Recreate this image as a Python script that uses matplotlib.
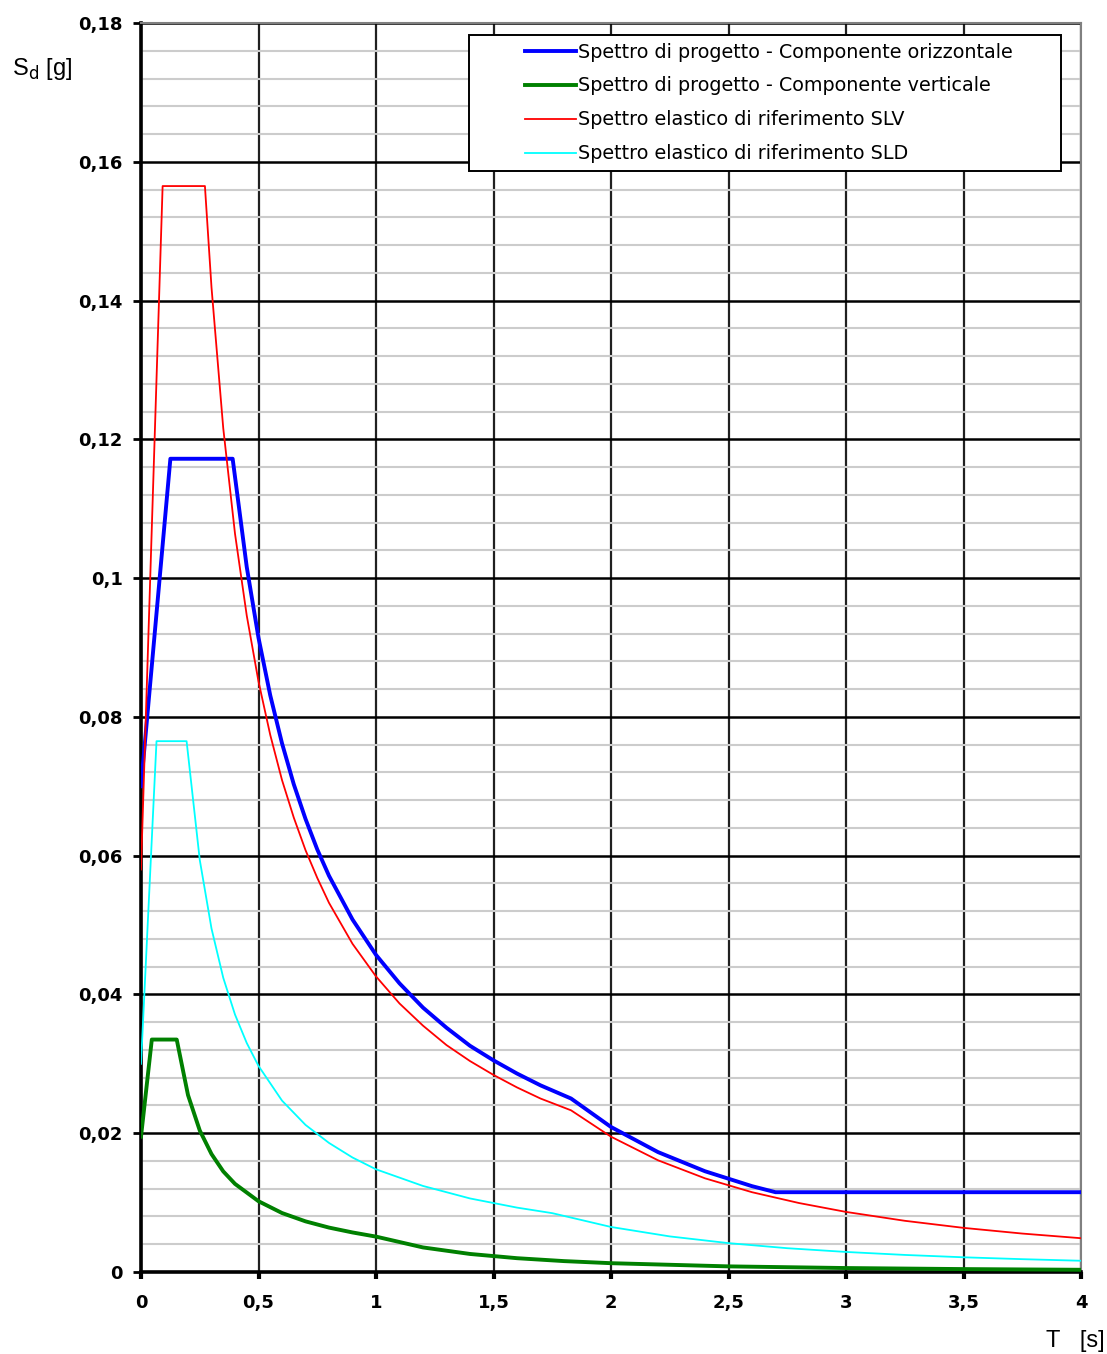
import matplotlib
matplotlib.use("Agg")
import matplotlib.pyplot as plt
import matplotlib.patches as mpatches
from matplotlib.ticker import MultipleLocator

# Spectra (T [s], Sd [g])
t_oriz = [0.0, 0.125, 0.39, 0.45, 0.5, 0.55, 0.6, 0.65, 0.7, 0.75, 0.8, 0.9,
          1.0, 1.1, 1.2, 1.3, 1.4, 1.5, 1.6, 1.7, 1.83, 2.0, 2.2, 2.4, 2.6,
          2.7, 4.0]
sd_oriz = [0.070, 0.1172, 0.1172, 0.1016, 0.0914, 0.0831, 0.0762, 0.0703,
           0.0653, 0.0609, 0.0571, 0.0508, 0.0457, 0.0416, 0.0381, 0.0352,
           0.0326, 0.0305, 0.0286, 0.0269, 0.0250, 0.0209, 0.01728, 0.01452,
           0.01237, 0.0115, 0.0115]

t_vert = [0.0, 0.046, 0.152, 0.2, 0.25, 0.3, 0.35, 0.4, 0.5, 0.6, 0.7, 0.8,
          0.9, 1.0, 1.2, 1.4, 1.6, 1.8, 2.0, 2.5, 3.0, 3.5, 4.0]
sd_vert = [0.0195, 0.0335, 0.0335, 0.0255, 0.0204, 0.0170, 0.0145, 0.0127,
           0.0102, 0.0085, 0.0073, 0.0064, 0.0057, 0.0051, 0.00354, 0.00260,
           0.00199, 0.00157, 0.00127, 0.00081, 0.00057, 0.00042, 0.00032]

t_slv = [0.0, 0.092, 0.272, 0.3, 0.35, 0.4, 0.45, 0.5, 0.55, 0.6, 0.65, 0.7,
         0.75, 0.8, 0.9, 1.0, 1.1, 1.2, 1.3, 1.4, 1.5, 1.6, 1.7, 1.83, 2.0,
         2.2, 2.4, 2.6, 2.8, 3.0, 3.25, 3.5, 3.75, 4.0]
sd_slv = [0.058, 0.1565, 0.1565, 0.1419, 0.1216, 0.1064, 0.0946, 0.0851,
          0.0774, 0.0709, 0.0655, 0.0608, 0.0568, 0.0532, 0.0473, 0.0426,
          0.0387, 0.0355, 0.0327, 0.0304, 0.0284, 0.0266, 0.0250, 0.0233,
          0.0195, 0.0161, 0.0135, 0.0115, 0.00994, 0.00866, 0.00738, 0.00636,
          0.00554, 0.00487]

t_sld = [0.0, 0.066, 0.194, 0.25, 0.3, 0.35, 0.4, 0.45, 0.5, 0.6, 0.7, 0.8,
         0.9, 1.0, 1.2, 1.4, 1.6, 1.75, 2.0, 2.25, 2.5, 2.75, 3.0, 3.25, 3.5,
         3.75, 4.0]
sd_sld = [0.030, 0.0765, 0.0765, 0.0594, 0.0495, 0.0424, 0.0371, 0.0330,
          0.0297, 0.0247, 0.0212, 0.0186, 0.0165, 0.0148, 0.0124, 0.0106,
          0.00928, 0.00848, 0.00649, 0.00513, 0.00416, 0.00343, 0.00289,
          0.00246, 0.00212, 0.00185, 0.00162]

labels = ["Spettro di progetto - Componente orizzontale",
          "Spettro di progetto - Componente verticale",
          "Spettro elastico di riferimento SLV",
          "Spettro elastico di riferimento SLD"]

x_ticks = [0, 0.5, 1, 1.5, 2, 2.5, 3, 3.5, 4]
x_labels = ["0", "0,5", "1", "1,5", "2", "2,5", "3", "3,5", "4"]
y_ticks = [0, 0.02, 0.04, 0.06, 0.08, 0.1, 0.12, 0.14, 0.16, 0.18]
y_labels = ["0", "0,02", "0,04", "0,06", "0,08", "0,1", "0,12", "0,14",
            "0,16", "0,18"]

fig = plt.figure(figsize=(11.07, 13.54), dpi=100)
ax = fig.add_axes([141 / 1107, 82 / 1354, 940 / 1107, 1249 / 1354])

ax.set_xlim(0, 4)
ax.set_ylim(0, 0.18)
ax.set_xticks(x_ticks)
ax.set_xticklabels(x_labels, fontsize=13, fontweight="bold")
ax.set_yticks(y_ticks)
ax.set_yticklabels(y_labels, fontsize=13, fontweight="bold")
ax.yaxis.set_minor_locator(MultipleLocator(0.004))
ax.tick_params(axis="y", which="major", direction="out", length=6, width=2, pad=7)
ax.tick_params(axis="x", which="major", direction="out", length=5, width=3, pad=11)
ax.tick_params(axis="both", which="minor", length=0)

ax.grid(True, which="minor", axis="y", color="#cccccc", linewidth=1.5, zorder=0)
ax.grid(True, which="major", axis="y", color="black", linewidth=1.8, zorder=0)
ax.grid(True, which="major", axis="x", color="#202020", linewidth=1.6, zorder=0)
ax.set_axisbelow(True)

for side in ["left", "bottom"]:
    ax.spines[side].set_linewidth(2.6)
    ax.spines[side].set_color("black")
for side in ["top", "right"]:
    ax.spines[side].set_linewidth(1.5)
    ax.spines[side].set_color("#808080")

l1, = ax.plot(t_oriz, sd_oriz, color="#0000ff", linewidth=2.8, zorder=3)
l2, = ax.plot(t_vert, sd_vert, color="#008000", linewidth=2.8, zorder=3)
l3, = ax.plot(t_slv, sd_slv, color="#ff0000", linewidth=1.3, zorder=4)
l4, = ax.plot(t_sld, sd_sld, color="#00ffff", linewidth=1.3, zorder=4)

# legend frame drawn by hand (wide empty margin on the left in the original)
box = mpatches.Rectangle((0.349, 0.8815), 0.630, 0.1085, transform=ax.transAxes,
                         facecolor="white", edgecolor="black", linewidth=1.4,
                         zorder=5)
ax.add_patch(box)
leg = ax.legend([l1, l2, l3, l4], labels, loc="upper left",
                bbox_to_anchor=(0.400, 0.9905), frameon=False, fontsize=13.8,
                handlelength=2.7, handletextpad=0.1, labelspacing=0.78,
                borderaxespad=0)
leg.set_zorder(6)

fig.text(12 / 1107, 1 - 75 / 1354, r"S$_{\mathrm{d}}$ [g]", fontsize=17,
         family="Liberation Sans", va="baseline")
fig.text(1046 / 1107, 1 - 1347 / 1354, "T   [s]", fontsize=17,
         family="Liberation Sans", va="baseline")

fig.savefig("out.png", dpi=100)
